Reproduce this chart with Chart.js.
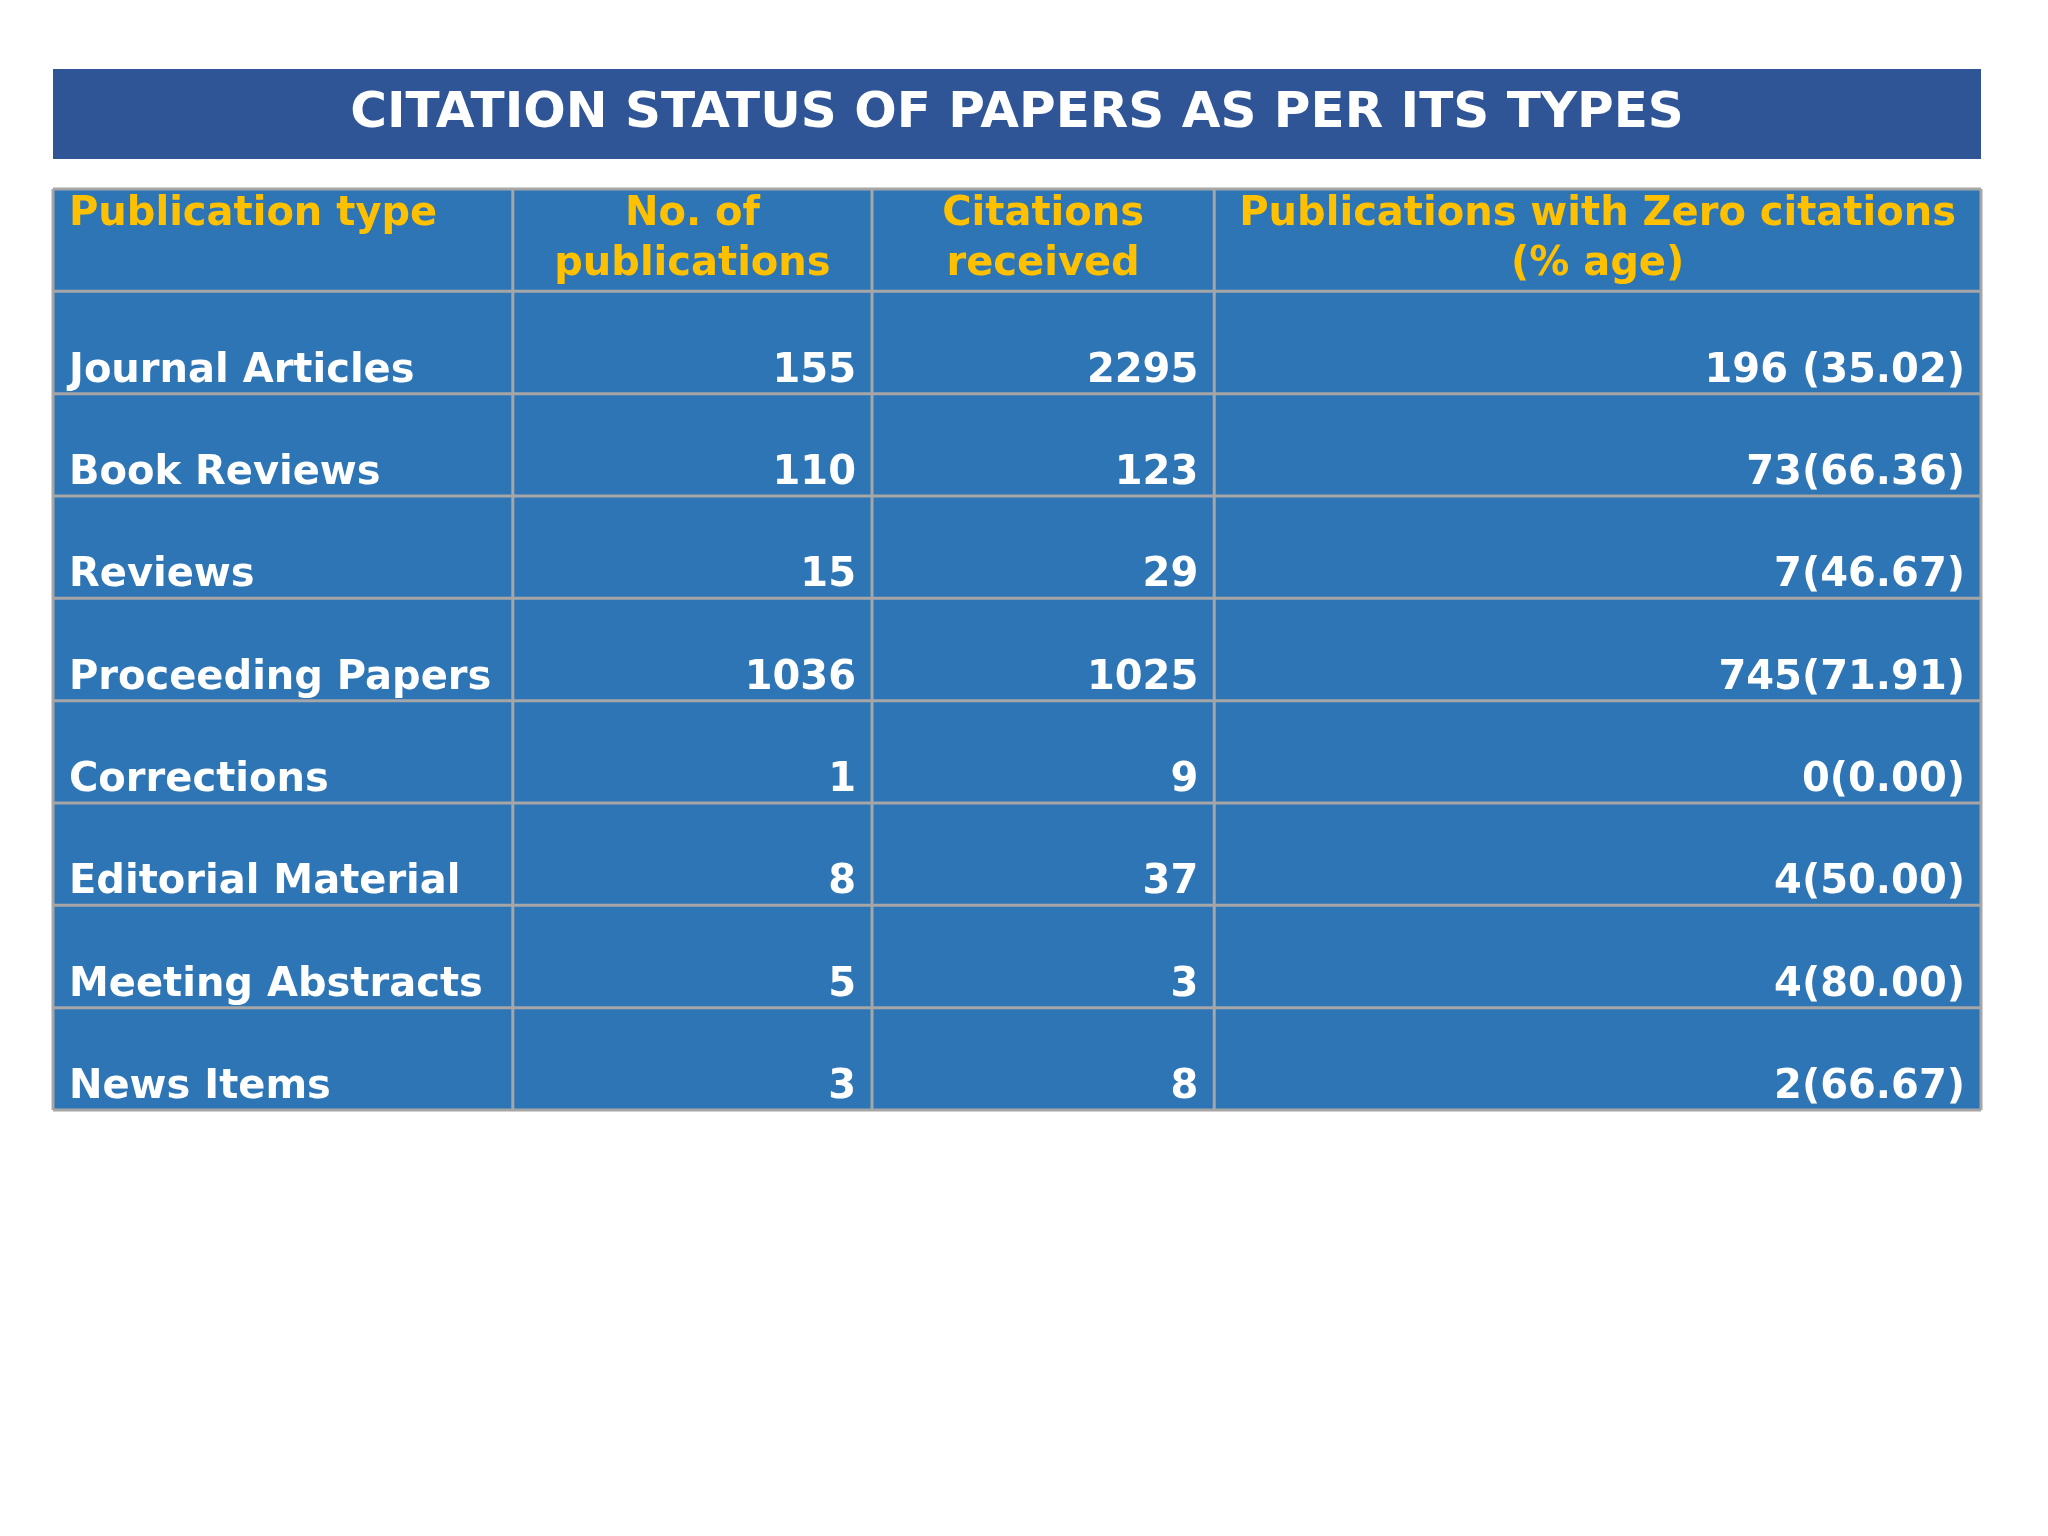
<!DOCTYPE html>
<html lang="en">
<head>
<meta charset="UTF-8">
<title>Citation status of papers as per its types</title>
<style>
  body { margin: 0; padding: 0; background: #fff; }
  #wrap { width: 2048px; height: 1536px; }
</style>
<script src="https://cdn.jsdelivr.net/npm/chart.js"></script>
</head>
<body>
<div id="wrap"><canvas id="tableChart" width="2048" height="1536"></canvas></div>
<script>
const titleText = 'CITATION STATUS OF PAPERS AS PER ITS TYPES';
const headers = [['Publication type'], ['No. of', 'publications'], ['Citations', 'received'], ['Publications with Zero citations', '(% age)']];
const pubTypes = ['Journal Articles', 'Book Reviews', 'Reviews', 'Proceeding Papers', 'Corrections', 'Editorial Material', 'Meeting Abstracts', 'News Items'];
const pubCounts = [155, 110, 15, 1036, 1, 8, 5, 3];
const citations = [2295, 123, 29, 1025, 9, 37, 3, 8];
const zeroCited = ['196 (35.02)', '73(66.36)', '7(46.67)', '745(71.91)', '0(0.00)', '4(50.00)', '4(80.00)', '2(66.67)'];

// column edges on the x scale (layout units)
const colEdges = [0, 352, 627, 889, 1476];

const tablePlugin = {
  id: 'tablePlugin',
  beforeDatasetsDraw(chart) {
    const { ctx, chartArea: a, scales: { x, y } } = chart;
    const n = pubTypes.length + 1;
    const band = (y.getPixelForValue(1) - y.getPixelForValue(0));
    const rowTop = i => y.getPixelForValue(i) - band / 2;
    ctx.save();
    // title bar
    ctx.fillStyle = '#2F5597';
    ctx.fillRect(a.left, 69, a.right - a.left, 90);
    ctx.fillStyle = '#ffffff';
    ctx.font = 'bold 50px "DejaVu Sans"';
    ctx.textAlign = 'center';
    ctx.textBaseline = 'middle';
    ctx.fillText(titleText, (a.left + a.right) / 2, 114);
    // table body
    ctx.fillStyle = '#2E75B6';
    ctx.fillRect(a.left, a.top, a.right - a.left, a.bottom - a.top);
    ctx.strokeStyle = '#A6A6A6';
    ctx.lineWidth = 3;
    for (let i = 0; i <= n; i++) {
      const yy = i < n ? rowTop(i) : a.bottom;
      ctx.beginPath(); ctx.moveTo(a.left, yy); ctx.lineTo(a.right, yy); ctx.stroke();
    }
    colEdges.forEach(e => {
      const xx = x.getPixelForValue(e);
      ctx.beginPath(); ctx.moveTo(xx, a.top); ctx.lineTo(xx, a.bottom); ctx.stroke();
    });
    // header
    ctx.fillStyle = '#FFC000';
    ctx.font = 'bold 40px "DejaVu Sans"';
    ctx.textBaseline = 'top';
    headers.forEach((lines, c) => {
      const l = x.getPixelForValue(colEdges[c]), r = x.getPixelForValue(colEdges[c + 1]);
      lines.forEach((t, k) => {
        if (c === 0) { ctx.textAlign = 'left'; ctx.fillText(t, l + 16, rowTop(0) + 6 + k * 50); }
        else { ctx.textAlign = 'center'; ctx.fillText(t, (l + r) / 2, rowTop(0) + 6 + k * 50); }
      });
    });
    // body rows
    ctx.fillStyle = '#ffffff';
    ctx.font = 'bold 40px "DejaVu Sans"';
    ctx.textBaseline = 'alphabetic';
    pubTypes.forEach((t, i) => {
      const base = rowTop(i + 1) + band - 12;
      const vals = [t, String(pubCounts[i]), String(citations[i]), zeroCited[i]];
      vals.forEach((v, c) => {
        const l = x.getPixelForValue(colEdges[c]), r = x.getPixelForValue(colEdges[c + 1]);
        if (c === 0) { ctx.textAlign = 'left'; ctx.fillText(v, l + 16, base); }
        else { ctx.textAlign = 'right'; ctx.fillText(v, r - 16, base); }
      });
    });
    ctx.restore();
  }
};

new Chart(document.getElementById('tableChart'), {
  type: 'bar',
  data: {
    labels: ['header'].concat(pubTypes),
    datasets: [{ data: [null].concat(pubCounts.map(() => null)), backgroundColor: 'rgba(0,0,0,0)' }]
  },
  options: {
    indexAxis: 'y',
    responsive: false,
    animation: false,
    layout: { padding: { left: 53, right: 67, top: 189, bottom: 426 } },
    plugins: { legend: { display: false }, tooltip: { enabled: false } },
    scales: {
      x: { type: 'linear', min: 0, max: 1476, display: false },
      y: { type: 'category', offset: true, display: false, grid: { offset: true } }
    }
  },
  plugins: [tablePlugin]
});
</script>
</body>
</html>
